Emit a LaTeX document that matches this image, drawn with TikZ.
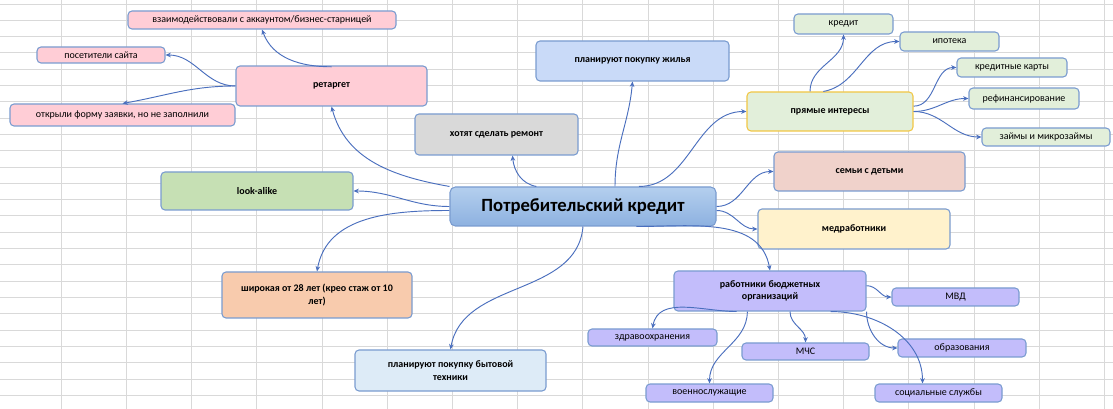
\documentclass[tikz,border=0pt]{standalone}
\usepackage{fontspec}
\setmainfont{Carlito}
\usetikzlibrary{arrows.meta}
\definecolor{bord}{HTML}{7A9CD0}
\definecolor{arr}{HTML}{4A6FBE}
\definecolor{cpink}{HTML}{FFCDD6}
\definecolor{cblue}{HTML}{C9DAF8}
\definecolor{cgray}{HTML}{D9D9D9}
\definecolor{cgreen}{HTML}{C6E0B4}
\definecolor{clgreen}{HTML}{E2EFDA}
\definecolor{cyel}{HTML}{F2C744}
\definecolor{crose}{HTML}{F0D2CB}
\definecolor{ccream}{HTML}{FFF2CC}
\definecolor{clav}{HTML}{C3BDFB}
\definecolor{corange}{HTML}{F8CBAD}
\definecolor{cpale}{HTML}{DDEBF7}
\definecolor{ctop}{HTML}{B4CFEE}
\definecolor{cbot}{HTML}{8DB1E0}
\begin{document}
\begin{tikzpicture}[x=0.75pt,y=-0.75pt,
  bx/.style={draw=bord,line width=0.8pt,rounded corners=3pt,inner sep=1pt,align=center,font=\fontsize{7.5}{9}\selectfont},
  bb/.style={bx,font=\bfseries\fontsize{7.5}{9.5}\selectfont},
  sz/.style 2 args={minimum width=#1*0.75pt,minimum height=#2*0.75pt},
  con/.style={draw=arr,line width=0.7pt,-{Stealth[length=4pt,width=3.5pt]}}]
\useasboundingbox (0,0) rectangle (1113,409);
\fill[white] (0,0) rectangle (1113,409);
\foreach \i in {0,...,17} \draw[gray!30,line width=0.6pt] (-4+65.2*\i,0) -- (-4+65.2*\i,409);
\foreach \j in {0,...,25} \draw[gray!30,line width=0.6pt] (0,4+16.3*\j) -- (1113,4+16.3*\j);
% nodes
\node[bx,fill=cpink,sz={268}{18}] (vz) at (262,20) {взаимодействовали с аккаунтом/бизнес-старницей};
\node[bx,fill=cpink,sz={128}{16}] (ps) at (101,55) {посетители сайта};
\node[bb,fill=cpink,sz={191}{40}] (rt) at (331.5,86) {ретаргет};
\node[bx,fill=cpink,sz={225}{22}] (of) at (122.5,115) {открыли форму заявки, но не заполнили};
\node[bb,fill=cblue,sz={193}{40}] (zh) at (632.5,61) {планируют покупку жилья};
\node[bb,fill=cgray,sz={163}{41}] (rm) at (496.5,134.5) {хотят сделать ремонт};
\node[bb,fill=cgreen,sz={192}{38}] (la) at (257,191) {look-alike};
\node[draw=bord,line width=0.8pt,rounded corners=4pt,top color=ctop,bottom color=cbot,font=\bfseries\fontsize{14}{16}\selectfont,sz={266}{39}] (mn) at (583,206.5) {Потребительский кредит};
\node[bb,fill=clgreen,draw=cyel,sz={166}{39}] (pi) at (830,111.5) {прямые интересы};
\node[bx,fill=clgreen,sz={99}{20}] (kr) at (843.5,24) {кредит};
\node[bx,fill=clgreen,sz={99}{19}] (ip) at (949.5,41.5) {ипотека};
\node[bx,fill=clgreen,sz={110}{19}] (kk) at (1012,67.5) {кредитные карты};
\node[bx,fill=clgreen,sz={110}{21}] (rf) at (1024,98.5) {рефинансирование};
\node[bx,fill=clgreen,sz={128}{18}] (zm) at (1046,137) {займы и микрозаймы};
\node[bb,fill=crose,sz={191}{39}] (sd) at (869.5,171.5) {семьи с детьми};
\node[bb,fill=ccream,sz={192}{40}] (md) at (854,229) {медработники};
\node[bb,fill=clav,sz={192}{40}] (rb) at (770,291) {работники бюджетных\\организаций};
\node[bx,fill=clav,sz={127}{18}] (mvd) at (955.5,297) {МВД};
\node[bx,fill=clav,sz={129}{17}] (zd) at (652.5,337.5) {здравоохранения};
\node[bx,fill=clav,sz={127}{17}] (mch) at (805.5,351.5) {МЧС};
\node[bx,fill=clav,sz={128}{18}] (ob) at (962,348) {образования};
\node[bx,fill=clav,sz={127}{18}] (vs) at (709.5,393) {военнослужащие};
\node[bx,fill=clav,sz={127}{18}] (ss) at (938.5,393) {социальные службы};
\node[bb,fill=corange,sz={190}{46}] (sh) at (317,295) {широкая от 28 лет (крео стаж от 10\\лет)};
\node[bb,fill=cpale,sz={191}{41}] (bt) at (450.5,370.5) {планируют покупку бытовой\\техники};
% connectors
\draw[con] (mn.north west) to[out=170,in=-75] (rt.south);
\draw[con] ([xshift=-35pt]mn.north) to[out=170,in=-85] ([xshift=12pt]rm.south);
\draw[con] ([xshift=24pt]mn.north) to[out=90,in=-95] (zh.south);
\draw[con] ([xshift=42pt]mn.north) to[out=0,in=180] (pi.west);
\draw[con] (mn.east) to[out=0,in=180] (sd.west);
\draw[con] ([yshift=-3pt]mn.east) to[out=0,in=180] (md.west);
\draw[con] ([xshift=40pt]mn.south) to[out=0,in=100] (rb.north);
\draw[con] (mn.west) to[out=180,in=0] (la.east);
\draw[con] ([yshift=-3pt]mn.west) to[out=180,in=80] (sh.north);
\draw[con] (mn.south) to[out=-95,in=80] (bt.north);
\draw[con] ([yshift=-1pt]rt.north) to[out=180,in=-70] (vz.south);
\draw[con] (rt.west) to[out=180,in=0] (ps.east);
\draw[con] (rt.west) to[out=180,in=10] (of.north);
\draw[con] ([xshift=-15pt]pi.north) to[out=90,in=-90] (kr.south);
\draw[con] ([xshift=-5pt]pi.north) to[out=10,in=180] (ip.west);
\draw[con] ([yshift=4pt]pi.east) to[out=0,in=180] (kk.west);
\draw[con] (pi.east) to[out=0,in=180] (rf.west);
\draw[con] (pi.east) to[out=0,in=180] (zm.west);
\draw[con] ([yshift=4pt]rb.east) to[out=0,in=180] (mvd.west);
\draw[con] ([xshift=-25pt]rb.south) to[out=180,in=80] (zd.north);
\draw[con] ([xshift=-17pt]rb.south) to[out=-90,in=90] (vs.north);
\draw[con] ([xshift=15pt]rb.south) to[out=-90,in=90] (mch.north);
\draw[con] (rb.south east) to[out=-90,in=180] (ob.west);
\draw[con] ([xshift=-27pt]rb.south east) to[out=0,in=90] ([xshift=-12pt]ss.north);
\end{tikzpicture}
\end{document}
